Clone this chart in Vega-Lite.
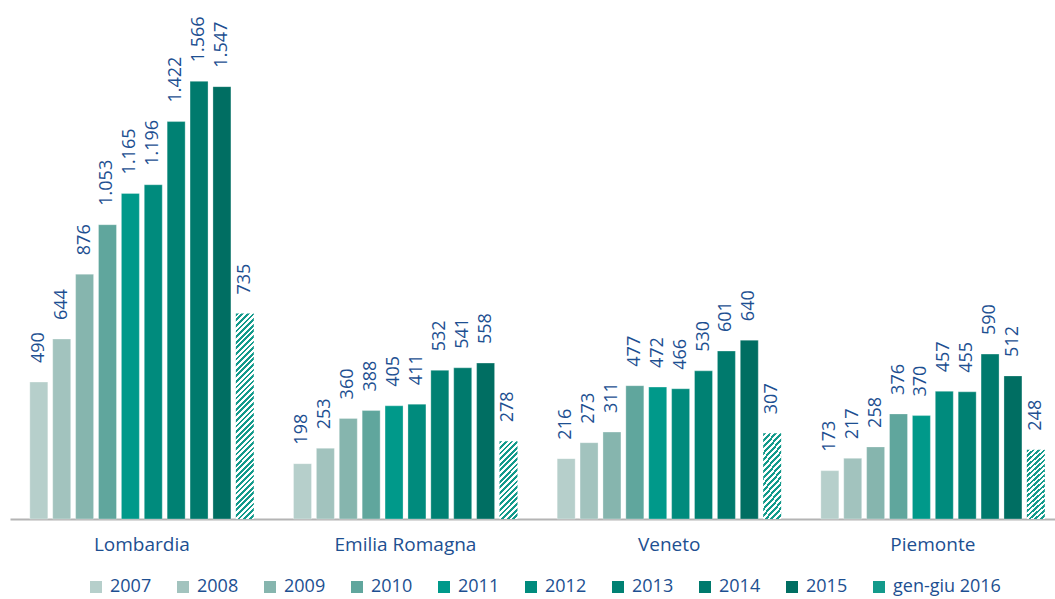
{
  "$schema": "https://vega.github.io/schema/vega-lite/v6.json",
  "width": 1055,
  "height": 519,
  "autosize": "none",
  "padding": {"left": 0, "top": 0, "right": 0, "bottom": 80},
  "background": "white",
  "config": {
    "view": {"stroke": null},
    "font": "Open Sans",
    "locale": {"number": {"decimal": ",", "thousands": ".", "grouping": [3], "currency": ["€", ""]}}
  },
  "data": {
    "values": [
      {"regione": "Lombardia", "anno": "2007", "valore": 490},
      {"regione": "Lombardia", "anno": "2008", "valore": 644},
      {"regione": "Lombardia", "anno": "2009", "valore": 876},
      {"regione": "Lombardia", "anno": "2010", "valore": 1053},
      {"regione": "Lombardia", "anno": "2011", "valore": 1165},
      {"regione": "Lombardia", "anno": "2012", "valore": 1196},
      {"regione": "Lombardia", "anno": "2013", "valore": 1422},
      {"regione": "Lombardia", "anno": "2014", "valore": 1566},
      {"regione": "Lombardia", "anno": "2015", "valore": 1547},
      {"regione": "Lombardia", "anno": "gen-giu 2016", "valore": 735},
      {"regione": "Emilia Romagna", "anno": "2007", "valore": 198},
      {"regione": "Emilia Romagna", "anno": "2008", "valore": 253},
      {"regione": "Emilia Romagna", "anno": "2009", "valore": 360},
      {"regione": "Emilia Romagna", "anno": "2010", "valore": 388},
      {"regione": "Emilia Romagna", "anno": "2011", "valore": 405},
      {"regione": "Emilia Romagna", "anno": "2012", "valore": 411},
      {"regione": "Emilia Romagna", "anno": "2013", "valore": 532},
      {"regione": "Emilia Romagna", "anno": "2014", "valore": 541},
      {"regione": "Emilia Romagna", "anno": "2015", "valore": 558},
      {"regione": "Emilia Romagna", "anno": "gen-giu 2016", "valore": 278},
      {"regione": "Veneto", "anno": "2007", "valore": 216},
      {"regione": "Veneto", "anno": "2008", "valore": 273},
      {"regione": "Veneto", "anno": "2009", "valore": 311},
      {"regione": "Veneto", "anno": "2010", "valore": 477},
      {"regione": "Veneto", "anno": "2011", "valore": 472},
      {"regione": "Veneto", "anno": "2012", "valore": 466},
      {"regione": "Veneto", "anno": "2013", "valore": 530},
      {"regione": "Veneto", "anno": "2014", "valore": 601},
      {"regione": "Veneto", "anno": "2015", "valore": 640},
      {"regione": "Veneto", "anno": "gen-giu 2016", "valore": 307},
      {"regione": "Piemonte", "anno": "2007", "valore": 173},
      {"regione": "Piemonte", "anno": "2008", "valore": 217},
      {"regione": "Piemonte", "anno": "2009", "valore": 258},
      {"regione": "Piemonte", "anno": "2010", "valore": 376},
      {"regione": "Piemonte", "anno": "2011", "valore": 370},
      {"regione": "Piemonte", "anno": "2012", "valore": 457},
      {"regione": "Piemonte", "anno": "2013", "valore": 455},
      {"regione": "Piemonte", "anno": "2014", "valore": 590},
      {"regione": "Piemonte", "anno": "2015", "valore": 512},
      {"regione": "Piemonte", "anno": "gen-giu 2016", "valore": 248}
    ]
  },
  "encoding": {
    "x": {
      "field": "regione",
      "type": "nominal",
      "sort": ["Lombardia", "Emilia Romagna", "Veneto", "Piemonte"],
      "scale": {
        "domain": ["Lombardia", "Emilia Romagna", "Veneto", "Piemonte"],
        "range": [10, 1064.67],
        "paddingInner": 0.1505,
        "paddingOuter": 0.0752
      },
      "axis": {
        "title": null,
        "labelAngle": 0,
        "ticks": false,
        "grid": false,
        "domainColor": "#b4b4b4",
        "domainWidth": 2,
        "labelFont": "Open Sans",
        "labelFontSize": 19,
        "labelColor": "#1d4f91",
        "labelPadding": 16
      }
    },
    "xOffset": {
      "field": "anno",
      "type": "nominal",
      "scale": {
        "domain": ["2007", "2008", "2009", "2010", "2011", "2012", "2013", "2014", "2015", "gen-giu 2016"],
        "paddingInner": 0.214,
        "paddingOuter": 0
      }
    },
    "y": {
      "field": "valore",
      "type": "quantitative",
      "scale": {"domain": [0, 1857]},
      "axis": null
    }
  },
  "layer": [
    {
      "transform": [{"filter": "datum.anno !== 'gen-giu 2016'"}],
      "mark": {"type": "bar", "stroke": "#ffffff", "strokeWidth": 1, "strokeOpacity": 0.3},
      "encoding": {
        "color": {
          "field": "anno",
          "type": "nominal",
          "scale": {
            "domain": ["2007", "2008", "2009", "2010", "2011", "2012", "2013", "2014", "2015", "gen-giu 2016"],
            "range": ["#b6cfcb", "#a2c3be", "#86b5ae", "#60a69d", "#00998a", "#008b7d", "#008173", "#007a6d", "#006e62", "#139a8b"]
          },
          "legend": {
            "orient": "none",
            "legendX": 87,
            "legendY": 578,
            "direction": "horizontal",
            "columns": 10,
            "title": null,
            "symbolType": "square",
            "symbolSize": 144,
            "symbolStrokeWidth": 0,
            "symbolOpacity": 1,
            "labelFont": "Open Sans",
            "labelFontSize": 18,
            "labelColor": "#1d4f91",
            "labelOffset": 5,
            "columnPadding": 22,
            "padding": 0,
            "encode": {
              "symbols": {
                "fill": {"value": {"expr": "datum.value === 'gen-giu 2016' ? {gradient: 'linear', x1: 0, y1: 0, x2: 1, y2: 1, stops: [{offset: 0, color: '#139a8b'}, {offset: 0.125, color: '#139a8b'}, {offset: 0.125, color: '#fff'}, {offset: 0.25, color: '#fff'}, {offset: 0.25, color: '#139a8b'}, {offset: 0.375, color: '#139a8b'}, {offset: 0.375, color: '#fff'}, {offset: 0.5, color: '#fff'}, {offset: 0.5, color: '#139a8b'}, {offset: 0.625, color: '#139a8b'}, {offset: 0.625, color: '#fff'}, {offset: 0.75, color: '#fff'}, {offset: 0.75, color: '#139a8b'}, {offset: 0.875, color: '#139a8b'}, {offset: 0.875, color: '#fff'}, {offset: 1, color: '#fff'}]} : scale('color', datum.value)"}}
              }
            }
          }
        }
      }
    },
    {
      "transform": [{"filter": "datum.anno === 'gen-giu 2016' && datum.regione === 'Lombardia'"}],
      "mark": {"type": "bar", "fill": {"gradient": "linear", "x1": 0, "y1": 0, "x2": 0.0946, "y2": 1.0793, "stops": [
        {"offset": 0, "color": "#139a8b"},
        {"offset": 0.0125, "color": "#139a8b"}, {"offset": 0.0125, "color": "#fff"},
        {"offset": 0.025, "color": "#fff"}, {"offset": 0.025, "color": "#139a8b"},
        {"offset": 0.0375, "color": "#139a8b"}, {"offset": 0.0375, "color": "#fff"},
        {"offset": 0.05, "color": "#fff"}, {"offset": 0.05, "color": "#139a8b"},
        {"offset": 0.0625, "color": "#139a8b"}, {"offset": 0.0625, "color": "#fff"},
        {"offset": 0.075, "color": "#fff"}, {"offset": 0.075, "color": "#139a8b"},
        {"offset": 0.0875, "color": "#139a8b"}, {"offset": 0.0875, "color": "#fff"},
        {"offset": 0.1, "color": "#fff"}, {"offset": 0.1, "color": "#139a8b"},
        {"offset": 0.1125, "color": "#139a8b"}, {"offset": 0.1125, "color": "#fff"},
        {"offset": 0.125, "color": "#fff"}, {"offset": 0.125, "color": "#139a8b"},
        {"offset": 0.1375, "color": "#139a8b"}, {"offset": 0.1375, "color": "#fff"},
        {"offset": 0.15, "color": "#fff"}, {"offset": 0.15, "color": "#139a8b"},
        {"offset": 0.1625, "color": "#139a8b"}, {"offset": 0.1625, "color": "#fff"},
        {"offset": 0.175, "color": "#fff"}, {"offset": 0.175, "color": "#139a8b"},
        {"offset": 0.1875, "color": "#139a8b"}, {"offset": 0.1875, "color": "#fff"},
        {"offset": 0.2, "color": "#fff"}, {"offset": 0.2, "color": "#139a8b"},
        {"offset": 0.2125, "color": "#139a8b"}, {"offset": 0.2125, "color": "#fff"},
        {"offset": 0.225, "color": "#fff"}, {"offset": 0.225, "color": "#139a8b"},
        {"offset": 0.2375, "color": "#139a8b"}, {"offset": 0.2375, "color": "#fff"},
        {"offset": 0.25, "color": "#fff"}, {"offset": 0.25, "color": "#139a8b"},
        {"offset": 0.2625, "color": "#139a8b"}, {"offset": 0.2625, "color": "#fff"},
        {"offset": 0.275, "color": "#fff"}, {"offset": 0.275, "color": "#139a8b"},
        {"offset": 0.2875, "color": "#139a8b"}, {"offset": 0.2875, "color": "#fff"},
        {"offset": 0.3, "color": "#fff"}, {"offset": 0.3, "color": "#139a8b"},
        {"offset": 0.3125, "color": "#139a8b"}, {"offset": 0.3125, "color": "#fff"},
        {"offset": 0.325, "color": "#fff"}, {"offset": 0.325, "color": "#139a8b"},
        {"offset": 0.3375, "color": "#139a8b"}, {"offset": 0.3375, "color": "#fff"},
        {"offset": 0.35, "color": "#fff"}, {"offset": 0.35, "color": "#139a8b"},
        {"offset": 0.3625, "color": "#139a8b"}, {"offset": 0.3625, "color": "#fff"},
        {"offset": 0.375, "color": "#fff"}, {"offset": 0.375, "color": "#139a8b"},
        {"offset": 0.3875, "color": "#139a8b"}, {"offset": 0.3875, "color": "#fff"},
        {"offset": 0.4, "color": "#fff"}, {"offset": 0.4, "color": "#139a8b"},
        {"offset": 0.4125, "color": "#139a8b"}, {"offset": 0.4125, "color": "#fff"},
        {"offset": 0.425, "color": "#fff"}, {"offset": 0.425, "color": "#139a8b"},
        {"offset": 0.4375, "color": "#139a8b"}, {"offset": 0.4375, "color": "#fff"},
        {"offset": 0.45, "color": "#fff"}, {"offset": 0.45, "color": "#139a8b"},
        {"offset": 0.4625, "color": "#139a8b"}, {"offset": 0.4625, "color": "#fff"},
        {"offset": 0.475, "color": "#fff"}, {"offset": 0.475, "color": "#139a8b"},
        {"offset": 0.4875, "color": "#139a8b"}, {"offset": 0.4875, "color": "#fff"},
        {"offset": 0.5, "color": "#fff"}, {"offset": 0.5, "color": "#139a8b"},
        {"offset": 0.5125, "color": "#139a8b"}, {"offset": 0.5125, "color": "#fff"},
        {"offset": 0.525, "color": "#fff"}, {"offset": 0.525, "color": "#139a8b"},
        {"offset": 0.5375, "color": "#139a8b"}, {"offset": 0.5375, "color": "#fff"},
        {"offset": 0.55, "color": "#fff"}, {"offset": 0.55, "color": "#139a8b"},
        {"offset": 0.5625, "color": "#139a8b"}, {"offset": 0.5625, "color": "#fff"},
        {"offset": 0.575, "color": "#fff"}, {"offset": 0.575, "color": "#139a8b"},
        {"offset": 0.5875, "color": "#139a8b"}, {"offset": 0.5875, "color": "#fff"},
        {"offset": 0.6, "color": "#fff"}, {"offset": 0.6, "color": "#139a8b"},
        {"offset": 0.6125, "color": "#139a8b"}, {"offset": 0.6125, "color": "#fff"},
        {"offset": 0.625, "color": "#fff"}, {"offset": 0.625, "color": "#139a8b"},
        {"offset": 0.6375, "color": "#139a8b"}, {"offset": 0.6375, "color": "#fff"},
        {"offset": 0.65, "color": "#fff"}, {"offset": 0.65, "color": "#139a8b"},
        {"offset": 0.6625, "color": "#139a8b"}, {"offset": 0.6625, "color": "#fff"},
        {"offset": 0.675, "color": "#fff"}, {"offset": 0.675, "color": "#139a8b"},
        {"offset": 0.6875, "color": "#139a8b"}, {"offset": 0.6875, "color": "#fff"},
        {"offset": 0.7, "color": "#fff"}, {"offset": 0.7, "color": "#139a8b"},
        {"offset": 0.7125, "color": "#139a8b"}, {"offset": 0.7125, "color": "#fff"},
        {"offset": 0.725, "color": "#fff"}, {"offset": 0.725, "color": "#139a8b"},
        {"offset": 0.7375, "color": "#139a8b"}, {"offset": 0.7375, "color": "#fff"},
        {"offset": 0.75, "color": "#fff"}, {"offset": 0.75, "color": "#139a8b"},
        {"offset": 0.7625, "color": "#139a8b"}, {"offset": 0.7625, "color": "#fff"},
        {"offset": 0.775, "color": "#fff"}, {"offset": 0.775, "color": "#139a8b"},
        {"offset": 0.7875, "color": "#139a8b"}, {"offset": 0.7875, "color": "#fff"},
        {"offset": 0.8, "color": "#fff"}, {"offset": 0.8, "color": "#139a8b"},
        {"offset": 0.8125, "color": "#139a8b"}, {"offset": 0.8125, "color": "#fff"},
        {"offset": 0.825, "color": "#fff"}, {"offset": 0.825, "color": "#139a8b"},
        {"offset": 0.8375, "color": "#139a8b"}, {"offset": 0.8375, "color": "#fff"},
        {"offset": 0.85, "color": "#fff"}, {"offset": 0.85, "color": "#139a8b"},
        {"offset": 0.8625, "color": "#139a8b"}, {"offset": 0.8625, "color": "#fff"},
        {"offset": 0.875, "color": "#fff"}, {"offset": 0.875, "color": "#139a8b"},
        {"offset": 0.8875, "color": "#139a8b"}, {"offset": 0.8875, "color": "#fff"},
        {"offset": 0.9, "color": "#fff"}, {"offset": 0.9, "color": "#139a8b"},
        {"offset": 0.9125, "color": "#139a8b"}, {"offset": 0.9125, "color": "#fff"},
        {"offset": 0.925, "color": "#fff"}, {"offset": 0.925, "color": "#139a8b"},
        {"offset": 0.9375, "color": "#139a8b"}, {"offset": 0.9375, "color": "#fff"},
        {"offset": 0.95, "color": "#fff"}, {"offset": 0.95, "color": "#139a8b"},
        {"offset": 0.9625, "color": "#139a8b"}, {"offset": 0.9625, "color": "#fff"},
        {"offset": 0.975, "color": "#fff"}, {"offset": 0.975, "color": "#139a8b"},
        {"offset": 0.9875, "color": "#139a8b"}, {"offset": 0.9875, "color": "#fff"},
        {"offset": 1, "color": "#fff"}
      ]}}
    },
    {
      "transform": [{"filter": "datum.anno === 'gen-giu 2016' && datum.regione !== 'Lombardia'"}],
      "mark": {"type": "bar", "fill": {"gradient": "linear", "x1": 0, "y1": 0, "x2": 0.2725, "y2": 1.1695, "stops": [
        {"offset": 0, "color": "#139a8b"},
        {"offset": 0.0294, "color": "#139a8b"}, {"offset": 0.0294, "color": "#fff"},
        {"offset": 0.0588, "color": "#fff"}, {"offset": 0.0588, "color": "#139a8b"},
        {"offset": 0.0882, "color": "#139a8b"}, {"offset": 0.0882, "color": "#fff"},
        {"offset": 0.1176, "color": "#fff"}, {"offset": 0.1176, "color": "#139a8b"},
        {"offset": 0.1471, "color": "#139a8b"}, {"offset": 0.1471, "color": "#fff"},
        {"offset": 0.1765, "color": "#fff"}, {"offset": 0.1765, "color": "#139a8b"},
        {"offset": 0.2059, "color": "#139a8b"}, {"offset": 0.2059, "color": "#fff"},
        {"offset": 0.2353, "color": "#fff"}, {"offset": 0.2353, "color": "#139a8b"},
        {"offset": 0.2647, "color": "#139a8b"}, {"offset": 0.2647, "color": "#fff"},
        {"offset": 0.2941, "color": "#fff"}, {"offset": 0.2941, "color": "#139a8b"},
        {"offset": 0.3235, "color": "#139a8b"}, {"offset": 0.3235, "color": "#fff"},
        {"offset": 0.3529, "color": "#fff"}, {"offset": 0.3529, "color": "#139a8b"},
        {"offset": 0.3824, "color": "#139a8b"}, {"offset": 0.3824, "color": "#fff"},
        {"offset": 0.4118, "color": "#fff"}, {"offset": 0.4118, "color": "#139a8b"},
        {"offset": 0.4412, "color": "#139a8b"}, {"offset": 0.4412, "color": "#fff"},
        {"offset": 0.4706, "color": "#fff"}, {"offset": 0.4706, "color": "#139a8b"},
        {"offset": 0.5, "color": "#139a8b"}, {"offset": 0.5, "color": "#fff"},
        {"offset": 0.5294, "color": "#fff"}, {"offset": 0.5294, "color": "#139a8b"},
        {"offset": 0.5588, "color": "#139a8b"}, {"offset": 0.5588, "color": "#fff"},
        {"offset": 0.5882, "color": "#fff"}, {"offset": 0.5882, "color": "#139a8b"},
        {"offset": 0.6176, "color": "#139a8b"}, {"offset": 0.6176, "color": "#fff"},
        {"offset": 0.6471, "color": "#fff"}, {"offset": 0.6471, "color": "#139a8b"},
        {"offset": 0.6765, "color": "#139a8b"}, {"offset": 0.6765, "color": "#fff"},
        {"offset": 0.7059, "color": "#fff"}, {"offset": 0.7059, "color": "#139a8b"},
        {"offset": 0.7353, "color": "#139a8b"}, {"offset": 0.7353, "color": "#fff"},
        {"offset": 0.7647, "color": "#fff"}, {"offset": 0.7647, "color": "#139a8b"},
        {"offset": 0.7941, "color": "#139a8b"}, {"offset": 0.7941, "color": "#fff"},
        {"offset": 0.8235, "color": "#fff"}, {"offset": 0.8235, "color": "#139a8b"},
        {"offset": 0.8529, "color": "#139a8b"}, {"offset": 0.8529, "color": "#fff"},
        {"offset": 0.8824, "color": "#fff"}, {"offset": 0.8824, "color": "#139a8b"},
        {"offset": 0.9118, "color": "#139a8b"}, {"offset": 0.9118, "color": "#fff"},
        {"offset": 0.9412, "color": "#fff"}, {"offset": 0.9412, "color": "#139a8b"},
        {"offset": 0.9706, "color": "#139a8b"}, {"offset": 0.9706, "color": "#fff"},
        {"offset": 1, "color": "#fff"}
      ]}}
    },
    {
      "mark": {"type": "text", "angle": 270, "align": "left", "baseline": "middle", "dx": 19, "font": "Open Sans", "fontSize": 18, "color": "#1d4f91"},
      "encoding": {
        "text": {"field": "valore", "type": "quantitative", "format": ",d"}
      }
    }
  ]
}
